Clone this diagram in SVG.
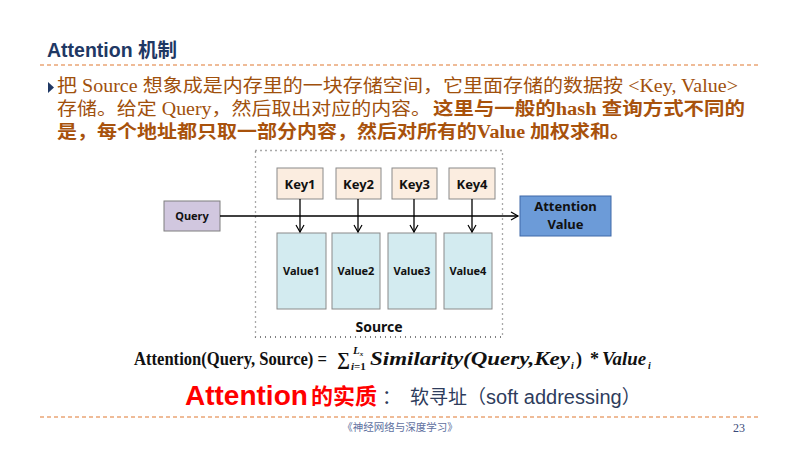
<svg xmlns="http://www.w3.org/2000/svg" width="800" height="450" viewBox="0 0 800 450">
<defs>
<marker id="arr" markerWidth="10" markerHeight="10" refX="8" refY="5" orient="auto" markerUnits="userSpaceOnUse">
<path d="M1,1 L8,5 L1,9" fill="none" stroke="#000" stroke-width="1.2"/>
</marker>
<style>
.sep{stroke:#E07830;stroke-width:1.2;stroke-dasharray:4 3;fill:none}
.body{font-family:"Liberation Serif","Noto Sans CJK SC",serif;font-size:18px;fill:#A0500C}
.bold{font-weight:bold;fill:#A8520C}
.key{fill:#FBEDE0;stroke:#8A8A8A;stroke-width:1}
.val{fill:#D3EBF0;stroke:#8A8A8A;stroke-width:1}
.lbl{font-family:"Noto Sans","DejaVu Sans",sans-serif;font-weight:bold;fill:#111;text-anchor:middle}
.conn{stroke:#000;stroke-width:1.3;fill:none}
.f{font-family:"Liberation Serif",serif;font-weight:bold;font-size:18px;fill:#111}
.fi{font-style:italic}
.fs{font-size:11px}
.fx{font-size:10px}
.fxx{font-size:7px}
</style>
</defs>
<rect width="800" height="450" fill="#fff"/>
<text x="47" y="57" font-family="Liberation Sans, Arial, Noto Sans CJK SC, sans-serif" font-weight="bold" font-size="19.5" fill="#1F3864">Attention 机制</text>
<line class="sep" x1="40" y1="65" x2="758" y2="65"/>
<polygon points="48,82 48,93 54,87.5" fill="#1F3864"/>
<text class="body" x="57" y="92" textLength="681" lengthAdjust="spacingAndGlyphs">把 Source 想象成是内存里的一块存储空间，它里面存储的数据按 &lt;Key, Value&gt;</text>
<text class="body" x="57" y="115" textLength="374" lengthAdjust="spacingAndGlyphs">存储。给定 Query，然后取出对应的内容。</text>
<text class="body bold" x="433" y="115" textLength="312" lengthAdjust="spacingAndGlyphs">这里与一般的hash 查询方式不同的</text>
<text class="body bold" x="57" y="138" textLength="573" lengthAdjust="spacingAndGlyphs">是，每个地址都只取一部分内容，然后对所有的Value 加权求和。</text>

<g id="source">
<rect x="255.5" y="150.5" width="247" height="186.5" fill="none" stroke="#555" stroke-width="1.3" stroke-dasharray="1 4"/>
<text class="lbl" x="379" y="332" font-size="14">Source</text>
</g>
<g id="query"><rect x="164" y="201" width="56" height="30" fill="#D1C7DF" stroke="#7F7F7F"/><text class="lbl" x="192" y="220" font-size="11">Query</text></g>
<g id="key1"><rect class="key" x="277" y="168" width="46" height="31"/><text class="lbl" x="300" y="188.5" font-size="13">Key1</text></g>
<g id="key2"><rect class="key" x="336" y="168" width="45" height="31"/><text class="lbl" x="358.5" y="188.5" font-size="13">Key2</text></g>
<g id="key3"><rect class="key" x="392" y="168" width="45" height="31"/><text class="lbl" x="414.5" y="188.5" font-size="13">Key3</text></g>
<g id="key4"><rect class="key" x="449" y="168" width="46" height="31"/><text class="lbl" x="472" y="188.5" font-size="13">Key4</text></g>
<g id="value1"><rect class="val" x="277" y="233" width="49" height="76"/><text class="lbl" x="301.5" y="275" font-size="11">Value1</text></g>
<g id="value2"><rect class="val" x="332" y="233" width="48" height="76"/><text class="lbl" x="356" y="275" font-size="11">Value2</text></g>
<g id="value3"><rect class="val" x="388" y="233" width="48" height="76"/><text class="lbl" x="412" y="275" font-size="11">Value3</text></g>
<g id="value4"><rect class="val" x="444" y="233" width="48" height="76"/><text class="lbl" x="468" y="275" font-size="11">Value4</text></g>
<g id="attention-value"><rect x="520" y="196" width="91" height="40" fill="#6C9BD8" stroke="#3E68A8"/><text class="lbl" x="565.5" y="210.5" font-size="13">Attention</text><text class="lbl" x="565.5" y="228.5" font-size="13">Value</text></g>

<g id="connectors">
<line class="conn" x1="220" y1="216" x2="518" y2="216" marker-end="url(#arr)"/>
<line class="conn" x1="300" y1="199" x2="300" y2="232" marker-end="url(#arr)"/>
<line class="conn" x1="358" y1="199" x2="358" y2="232" marker-end="url(#arr)"/>
<line class="conn" x1="414" y1="199" x2="414" y2="232" marker-end="url(#arr)"/>
<line class="conn" x1="472" y1="199" x2="472" y2="232" marker-end="url(#arr)"/>
</g>

<g id="formula">
<text class="f" x="134" y="365" textLength="193" lengthAdjust="spacingAndGlyphs">Attention(Query, Source) =</text>
<text class="f" x="337" y="365">∑<tspan class="fi fs" x="353" y="354">L</tspan><tspan class="fi fxx" y="356">x</tspan><tspan class="fi fs" x="351" y="370">i</tspan><tspan class="fs">=1</tspan></text>
<text class="f fi" x="370" y="365" textLength="200" lengthAdjust="spacingAndGlyphs">Similarity(Query,Key</text>
<text class="f fi fx" x="571" y="369">i</text>
<text class="f" x="576" y="365">)</text>
<text class="f" x="590" y="365">*</text>
<text class="f fi" x="602" y="365" textLength="44" lengthAdjust="spacingAndGlyphs">Value</text>
<text class="f fi fx" x="648" y="369">i</text>
</g>

<text x="185" y="405" font-family="Liberation Sans, Arial, sans-serif" font-weight="bold" font-size="28" fill="#FF0000">Attention</text>
<text x="311" y="404" font-family="Noto Sans CJK SC, sans-serif" font-weight="bold" font-size="22" fill="#FF0000">的实质</text>
<text x="382" y="404" font-family="Noto Sans CJK SC, sans-serif" font-size="19" fill="#2E3C5C">：<tspan x="410">软寻址（</tspan><tspan font-family="Liberation Sans, Arial, sans-serif" font-size="20">soft addressing</tspan>）</text>

<line class="sep" x1="40" y1="417" x2="758" y2="417"/>
<text x="400" y="431" text-anchor="middle" font-family="Noto Sans CJK SC, sans-serif" font-size="10.5" fill="#6070A0">《神经网络与深度学习》</text>
<text x="733" y="432" font-family="Liberation Serif, serif" font-size="12" fill="#3A4A7A">23</text>
</svg>
